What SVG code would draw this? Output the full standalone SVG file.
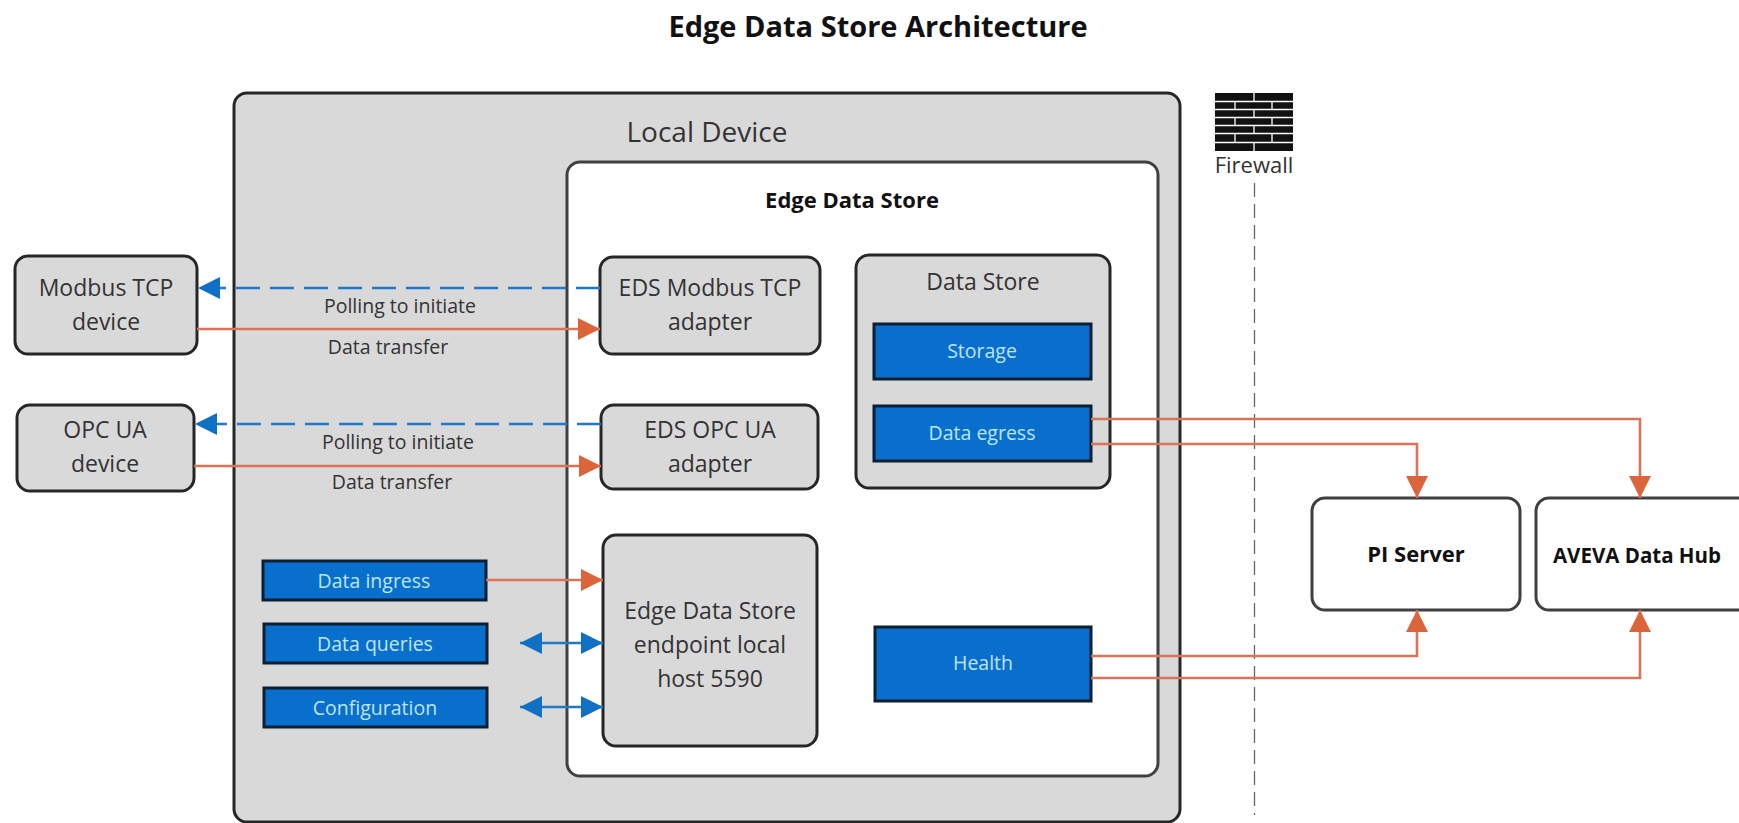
<svg xmlns="http://www.w3.org/2000/svg" width="1739" height="823" viewBox="0 0 1739 823">
<style>
text{font-family:"Open Sans","Noto Sans","Liberation Sans",sans-serif;text-anchor:middle;fill:#333}
.g{fill:#d9d9d9;stroke:#262626;stroke-width:3}
.w{fill:#fff;stroke:#404040;stroke-width:3}
.b{fill:#0870cc;stroke:#0b1f33;stroke-width:3}
.t{font-size:23px}
.s{font-size:19.5px}
.l{font-size:19.5px;fill:#bfe4fb}
.bd{font-weight:700;fill:#111}
.red{fill:none;stroke:#d9735a;stroke-width:2.6}
.blue{fill:none;stroke:#1f78c8;stroke-width:2.6}
.dash{stroke-dasharray:24 10}
.fw{stroke:#fff;stroke-width:1.3;fill:none}
</style>
<defs>
<marker id="ar" markerUnits="userSpaceOnUse" markerWidth="24" markerHeight="22" refX="22" refY="11" orient="auto"><path d="M0 0L22 11L0 22Z" fill="#dc643a"/></marker>
<marker id="ab" markerUnits="userSpaceOnUse" markerWidth="24" markerHeight="22" refX="22" refY="11" orient="auto"><path d="M0 0L22 11L0 22Z" fill="#0f70c4"/></marker>
<marker id="abs" markerUnits="userSpaceOnUse" markerWidth="24" markerHeight="22" refX="2" refY="11" orient="auto"><path d="M24 0L2 11L24 22Z" fill="#0f70c4"/></marker>
</defs>
<text x="878" y="37" class="bd" style="font-size:29px">Edge Data Store Architecture</text>

<g id="local-device"><rect class="g" x="234" y="93" width="946" height="729" rx="13"/><text x="707" y="142" style="font-size:28px">Local Device</text></g>
<g id="edge-data-store"><rect class="w" x="567" y="162" width="591" height="614" rx="13"/><text x="852" y="208" class="bd" style="font-size:22px">Edge Data Store</text></g>
<g id="modbus-device"><rect class="g" x="15" y="256" width="182" height="98" rx="13"/><text x="106" y="296" class="t">Modbus TCP</text><text x="106" y="330" class="t">device</text></g>
<g id="opc-device"><rect class="g" x="17" y="405" width="177" height="86" rx="13"/><text x="105" y="438" class="t">OPC UA</text><text x="105" y="472" class="t">device</text></g>
<g id="eds-modbus"><rect class="g" x="600" y="257" width="220" height="97" rx="13"/><text x="710" y="296" class="t">EDS Modbus TCP</text><text x="710" y="330" class="t">adapter</text></g>
<g id="eds-opc"><rect class="g" x="601" y="405" width="217" height="84" rx="13"/><text x="710" y="438" class="t">EDS OPC UA</text><text x="710" y="472" class="t">adapter</text></g>
<g id="endpoint"><rect class="g" x="603" y="535" width="214" height="211" rx="13"/><text x="710" y="619" class="t">Edge Data Store</text><text x="710" y="653" class="t">endpoint local</text><text x="710" y="687" class="t">host 5590</text></g>
<g id="data-store"><rect class="g" x="856" y="255" width="254" height="233" rx="13"/><text x="983" y="290" class="t">Data Store</text></g>
<g id="storage"><rect class="b" x="874" y="324" width="217" height="55"/><text x="982" y="358" class="l">Storage</text></g>
<g id="data-egress"><rect class="b" x="874" y="406" width="217" height="55"/><text x="982" y="440" class="l">Data egress</text></g>
<g id="health"><rect class="b" x="875" y="627" width="216" height="74"/><text x="983" y="670" class="l">Health</text></g>
<g id="data-ingress"><rect class="b" x="263" y="561" width="223" height="39"/><text x="374" y="588" class="l">Data ingress</text></g>
<g id="data-queries"><rect class="b" x="264" y="624" width="223" height="39"/><text x="375" y="651" class="l">Data queries</text></g>
<g id="configuration"><rect class="b" x="264" y="688" width="223" height="39"/><text x="375" y="715" class="l">Configuration</text></g>
<g id="pi-server"><rect class="w" x="1312" y="498" width="208" height="112" rx="13"/><text x="1416" y="562" class="bd" style="font-size:22px">PI Server</text></g>
<g id="aveva-data-hub"><rect class="w" x="1536" y="498" width="215" height="112" rx="13"/><text x="1637" y="563" class="bd" style="font-size:20.5px">AVEVA Data Hub</text></g>
<g id="firewall">
<rect x="1215" y="93" width="78" height="58" fill="#111"/>
<path class="fw" d="M1215 101.500H1293M1215 109.500H1293M1215 117.500H1293M1215 125.500H1293M1215 133.500H1293M1215 142.500H1293M1254 93V101M1235 101V109M1272 101V109M1254 109V117M1235 117V125M1272 117V125M1254 125V133M1235 133V142M1272 133V142M1254 142V151"/>
<text x="1254" y="173" class="s" style="font-size:22px">Firewall</text>
</g>

<g id="connectors">
<path d="M1254.500 183V815" fill="none" stroke="#666" stroke-width="1.300" stroke-dasharray="14 7"/>
<path class="blue dash" d="M600 288H198" marker-end="url(#ab)"/>
<path class="red" d="M197 329H600" marker-end="url(#ar)"/>
<path class="blue dash" d="M601 424H195" marker-end="url(#ab)"/>
<path class="red" d="M194 466H601" marker-end="url(#ar)"/>
<path class="red" d="M486 580H603" marker-end="url(#ar)"/>
<path class="blue" d="M520 643H603" marker-end="url(#ab)" marker-start="url(#abs)"/>
<path class="blue" d="M520 707H603" marker-end="url(#ab)" marker-start="url(#abs)"/>
<path class="red" d="M1091 419H1640V498" marker-end="url(#ar)"/>
<path class="red" d="M1091 444H1417V498" marker-end="url(#ar)"/>
<path class="red" d="M1091 656H1417V610" marker-end="url(#ar)"/>
<path class="red" d="M1091 678H1640V610" marker-end="url(#ar)"/>
</g>
<g id="labels">
<text x="400" y="313" class="s">Polling to initiate</text>
<text x="388" y="354" class="s">Data transfer</text>
<text x="398" y="449" class="s">Polling to initiate</text>
<text x="392" y="489" class="s">Data transfer</text>
</g>
</svg>
